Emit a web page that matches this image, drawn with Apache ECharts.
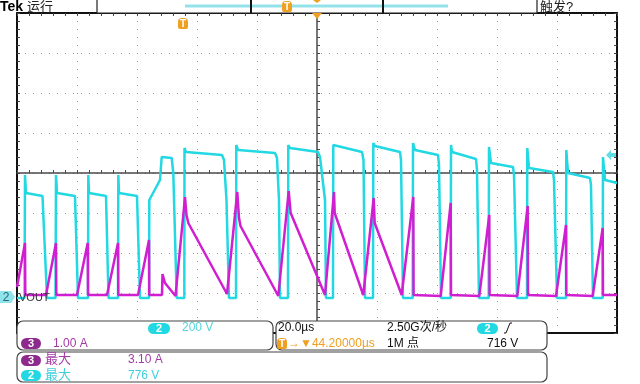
<!DOCTYPE html>
<html>
<head>
<meta charset="utf-8">
<script src="https://cdn.jsdelivr.net/npm/echarts@6/dist/echarts.min.js"></script>
<style>
html,body{margin:0;padding:0;background:#fff;}
#c{width:640px;height:384px;}
</style>
</head>
<body>
<div id="c"></div>
<script>
// ---- Channel 2 (VOUT, cyan) : time in µs relative to screen centre, volts ----
const ch2TimeUs = [-100,-97.5,-97.33,-97,-91.5,-90,-87.17,-87,-86.67,-80.67,-79.67,-76.33,-76.23,-76,-70.33,-69.5,-66.33,-66.23,-66,-60,-59,-56,-55.9,-52.33,-51.77,-51.23,-48.43,-47.9,-46.77,-44.23,-44.17,-43.67,-31.67,-31,-30.17,-29.33,-27,-26.9,-26.33,-14,-13.33,-12.67,-12.33,-9.67,-9.57,-9,0.33,1,2.67,3,5.33,5.43,6,15,15.5,16,18.67,18.77,19.33,27.67,28,28.67,31.9,32,32.67,40.33,40.67,41.33,44.57,44.67,45,53,53.33,54,57.23,57.33,58,65.33,65.67,66.67,70,70.1,70.67,78.67,79,80,83,83.1,83.67,91,91.33,92,95.23,95.33,96,100];
const ch2Volts = [0,0,615,525,510,0,0,615,525,510,0,0,615,525,510,0,0,615,525,510,0,0,490,590,705,715,700,625,0,0,750,730,715,690,490,0,0,765,740,725,700,490,0,0,765,750,730,705,490,0,0,765,755,730,690,0,0,775,760,730,690,0,0,775,740,715,665,0,0,765,730,695,640,0,0,755,675,655,615,0,0,750,650,630,590,0,0,740,625,600,565,0,0,705,590,575];

// ---- Channel 3 (current, magenta) : time in µs, amps ----
const ch3TimeUs = [-100,-97.33,-97.23,-90.33,-87,-86.9,-80,-76.43,-76.33,-70,-66.33,-66.23,-59.67,-56,-55.9,-51.67,-51.5,-50.67,-47.17,-46.77,-44,-43.5,-42.9,-30,-26.57,-26,-25.5,-12.9,-12.67,-9.43,-8.77,2.67,5.67,5.9,15.43,18.9,19.23,28.23,32.1,32.2,41.23,44.57,44.67,54.1,57.43,57.53,66.77,70.23,70.33,79.67,83,83.1,91.9,95.23,95.33,100];
const ch3Amps = [0.2,1.3,0,0,1.3,0,0,1.3,0,0,1.3,0,0,1.375,0,0,0.525,0.3,-0.025,-0.025,2.45,2.0,1.8,0.025,2.575,1.925,1.725,-0.025,-0.025,2.6,2.05,0,2.575,2.05,0,2.425,1.8,0,2.45,0,-0.025,2.3,0,-0.025,2.0,0,-0.025,2.225,0,-0.025,1.75,0,-0.025,1.675,0,0];

// ---- scope settings (scale per division, position in divisions) ----
const ch2VoltsPerDiv = 200, ch2PosDiv = -3.125;
const ch3AmpsPerDiv = 1, ch3PosDiv = -3.05;
const usPerDiv = 20;

// ---- readout texts ----
const ch2ScaleText = '200 V';
const ch3ScaleText = '1.00 A';
const timebaseText = '20.0µs';
const delayText = '→▼44.20000µs';
const rateText = '2.50G次/秒';
const recText = '1M 点';
const trigLevelText = '716 V';
const ch3MaxText = '3.10 A';
const ch2MaxText = '776 V';

const cyan = '#22d8e2', magenta = '#d01fd0', orange = '#f0a020', purpleBadge = '#8e2a8e';
const FONT = '"Liberation Sans","Noto Sans CJK SC",sans-serif';

const ch2Data = ch2TimeUs.map((t, i) => [t, ch2Volts[i] / ch2VoltsPerDiv + ch2PosDiv]);
const ch3Data = ch3TimeUs.map((t, i) => [t, ch3Amps[i] / ch3AmpsPerDiv + ch3PosDiv]);

const chart = echarts.init(document.getElementById('c'), null, {renderer: 'canvas'});

function txt(x, y, s, color, size, extra) {
  return Object.assign({type: 'text', z: 110, style: {x: x, y: y, text: s, fill: color, font: (size || 12) + 'px ' + FONT, textVerticalAlign: 'middle'}}, extra || {});
}
function badge(x, y, w, h, fill, label) {
  return [
    {type: 'rect', z: 110, shape: {x: x, y: y, width: w, height: h, r: h / 2}, style: {fill: fill}},
    {type: 'text', z: 111, style: {x: x + w / 2, y: y + h / 2 + 0.5, text: label, fill: '#fff', font: 'bold 11px ' + FONT, textAlign: 'center', textVerticalAlign: 'middle'}}
  ];
}
function tBadge(x, y) {
  return [
    {type: 'rect', z: 110, shape: {x: x, y: y, width: 10, height: 11, r: [4, 4, 2, 2]}, style: {fill: orange}},
    {type: 'text', z: 111, style: {x: x + 5, y: y + 6, text: 'T', fill: '#fff', font: 'bold 10px ' + FONT, textAlign: 'center', textVerticalAlign: 'middle'}}
  ];
}
function box(x, y, w, h) {
  return {type: 'rect', z: 105, shape: {x: x, y: y, width: w, height: h, r: 6}, style: {fill: '#fff', stroke: '#444', lineWidth: 1.2}};
}

const graphics = [].concat(
  [
    {type: 'rect', z: 104, shape: {x: 0, y: 319, width: 640, height: 65}, style: {fill: 'rgba(255,255,255,0)'}},
    // top bar
    txt(0, 7, 'Tek', '#000', 14, {style: {x: 0, y: 7, text: 'Tek', fill: '#000', font: 'bold 14px ' + FONT, textVerticalAlign: 'middle'}}),
    txt(27, 7, '运行', '#222', 13),
    {type: 'rect', z: 105, shape: {x: 97, y: -1, width: 440, height: 14}, style: {fill: '#fff', stroke: '#222', lineWidth: 1.2}},
    {type: 'line', z: 106, shape: {x1: 185, y1: 6, x2: 448, y2: 6}, style: {stroke: '#93e2ea', lineWidth: 3}},
    {type: 'line', z: 107, shape: {x1: 251, y1: 0, x2: 251, y2: 13}, style: {stroke: '#111', lineWidth: 2}},
    {type: 'line', z: 107, shape: {x1: 383, y1: 0, x2: 383, y2: 13}, style: {stroke: '#111', lineWidth: 2}},
    {type: 'polygon', z: 108, shape: {points: [[313, 0], [321, 0], [317, 3]]}, style: {fill: orange}},
    txt(540, 7, '触发?', '#222', 13),
    // trigger position marker (top of graticule)
    {type: 'polygon', z: 108, shape: {points: [[312, 13], [322, 13], [317, 19]]}, style: {fill: orange}},
    // ch2 ground marker
    {type: 'polygon', z: 108, shape: {points: [[0, 291], [11, 291], [15, 297], [11, 303], [0, 303]]}, style: {fill: '#8fe3ea'}},
    {type: 'text', z: 109, style: {x: 6, y: 297.5, text: '2', fill: '#2a6a7a', font: '12px ' + FONT, textAlign: 'center', textVerticalAlign: 'middle'}},
    txt(19, 298, 'VOUT', '#333', 11),
    // trigger level arrow (right)
    {type: 'polygon', z: 108, shape: {points: [[606, 155], [611, 150], [611, 153], [616, 153], [616, 157], [611, 157], [611, 160]]}, style: {fill: '#5fdce4'}},
    // readout boxes
    box(17, 321, 256, 29),
    box(276, 321, 271, 29),
    box(17, 352, 530, 30)
  ],
  tBadge(282, 1),
  tBadge(178, 18),
  badge(148, 323, 22, 11, cyan, '2'),
  [txt(182, 328, ch2ScaleText, '#55d4de', 12)],
  badge(21, 338, 20, 11, purpleBadge, '3'),
  [txt(53, 343.5, ch3ScaleText, '#a43aa4', 12)],
  [txt(278, 328, timebaseText, '#111', 12)],
  tBadge(277, 338),
  [txt(288, 343.5, delayText, orange, 12)],
  [txt(387, 328, rateText, '#111', 12), txt(387, 343.5, recText, '#111', 12)],
  badge(477, 323, 21, 11, cyan, '2'),
  [{type: 'polyline', z: 110, shape: {points: [[504, 333], [506, 333], [510, 323], [512, 323]]}, style: {stroke: '#111', lineWidth: 1, fill: null}}],
  [txt(487, 343.5, trigLevelText, '#111', 12)],
  badge(21, 355, 20, 11, purpleBadge, '3'),
  [txt(45, 359.5, '最大', '#a43aa4', 13), txt(128, 359.5, ch3MaxText, '#a43aa4', 12)],
  badge(21, 370, 20, 11, cyan, '2'),
  [txt(45, 375.5, '最大', '#40cfdc', 13), txt(128, 375.5, ch2MaxText, '#40cfdc', 12)]
);

const dotted = {show: true, lineStyle: {color: '#9a9a9a', width: 1, type: [1, 7]}};
const rect = {left: 17, top: 13, width: 600, height: 320};

chart.setOption({
  animation: false,
  backgroundColor: '#fff',
  grid: [
    Object.assign({show: false}, rect),
    Object.assign({show: false}, rect)
  ],
  xAxis: [
    {gridIndex: 0, type: 'value', min: -100, max: 100, interval: usPerDiv,
      axisLine: {show: true, onZero: true, lineStyle: {color: '#4a4a4a', width: 1.5}},
      axisTick: {show: true, inside: true, length: 3, lineStyle: {color: '#4a4a4a'}},
      minorTick: {show: true, splitNumber: 5, length: 3, lineStyle: {color: '#4a4a4a'}},
      axisLabel: {show: false}, splitLine: dotted},
    {gridIndex: 1, type: 'value', position: 'top', min: -100, max: 100, interval: usPerDiv,
      axisLine: {show: true, onZero: false, lineStyle: {color: '#111', width: 2}},
      axisTick: {show: true, inside: true, length: 3, lineStyle: {color: '#444'}},
      minorTick: {show: true, splitNumber: 5, length: 3, lineStyle: {color: '#444'}},
      axisLabel: {show: false}, splitLine: {show: false}},
    {gridIndex: 1, type: 'value', position: 'bottom', min: -100, max: 100, interval: usPerDiv,
      axisLine: {show: true, onZero: false, lineStyle: {color: '#111', width: 2}},
      axisTick: {show: false}, axisLabel: {show: false}, splitLine: {show: false}}
  ],
  yAxis: [
    {gridIndex: 0, type: 'value', min: -4, max: 4, interval: 1,
      axisLine: {show: true, onZero: true, lineStyle: {color: '#4a4a4a', width: 1.5}},
      axisTick: {show: true, inside: true, length: 3, lineStyle: {color: '#4a4a4a'}},
      minorTick: {show: true, splitNumber: 5, length: 3, lineStyle: {color: '#4a4a4a'}},
      axisLabel: {show: false}, splitLine: dotted},
    {gridIndex: 1, type: 'value', position: 'left', min: -4, max: 4, interval: 1,
      axisLine: {show: true, onZero: false, lineStyle: {color: '#111', width: 2}},
      axisTick: {show: true, inside: true, length: 3, lineStyle: {color: '#444'}},
      minorTick: {show: true, splitNumber: 5, length: 3, lineStyle: {color: '#444'}},
      axisLabel: {show: false}, splitLine: {show: false}},
    {gridIndex: 1, type: 'value', position: 'right', min: -4, max: 4, interval: 1,
      axisLine: {show: true, onZero: false, lineStyle: {color: '#111', width: 2}},
      axisTick: {show: true, inside: true, length: 3, lineStyle: {color: '#444'}},
      minorTick: {show: true, splitNumber: 5, length: 3, lineStyle: {color: '#444'}},
      axisLabel: {show: false}, splitLine: {show: false}}
  ],
  series: [
    {name: 'CH2', type: 'line', xAxisIndex: 0, yAxisIndex: 0, data: ch2Data, showSymbol: false, clip: true,
      lineStyle: {color: cyan, width: 2.5}, z: 3},
    {name: 'CH3', type: 'line', xAxisIndex: 0, yAxisIndex: 0, data: ch3Data, showSymbol: false, clip: true,
      lineStyle: {color: magenta, width: 2.5}, z: 4}
  ],
  graphic: graphics
});
</script>
</body>
</html>
